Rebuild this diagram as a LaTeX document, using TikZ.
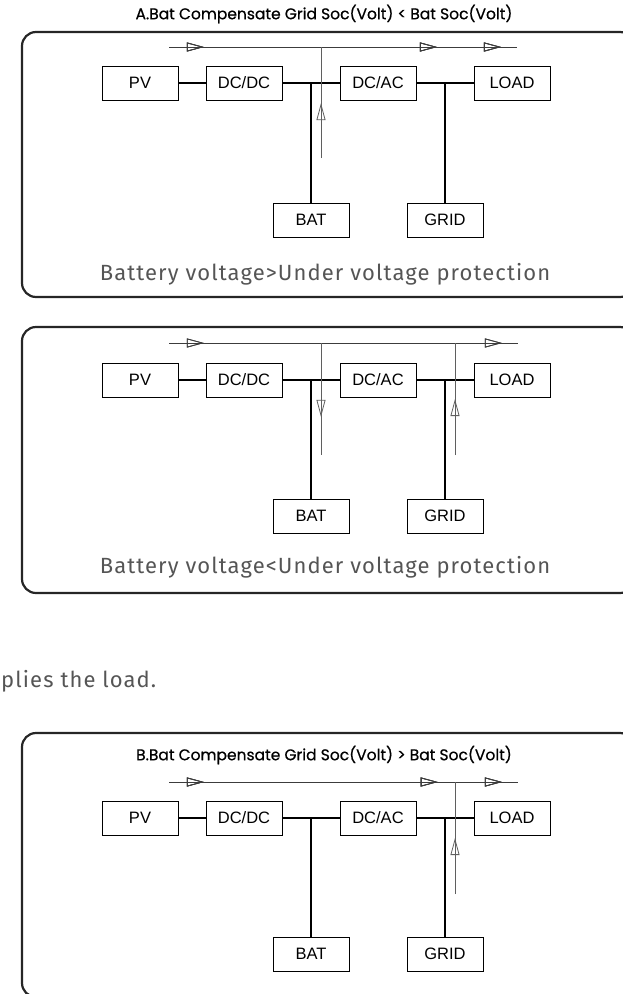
\documentclass[tikz,border=0pt]{standalone}
\usepackage{fontspec}
\setmainfont{Liberation Sans}
\newfontfamily\headfont{Poppins}[FakeBold=0.6]
\newfontfamily\notefont{Fira Sans}[LetterSpace=5]
\usetikzlibrary{arrows.meta,positioning,decorations.markings}
\definecolor{framegray}{RGB}{38,38,38}
\definecolor{flowgray}{RGB}{60,60,60}
\definecolor{tapgray}{RGB}{95,95,95}
\definecolor{notegray}{RGB}{85,85,85}

\begin{document}
\begin{tikzpicture}[
    x=1pt, y=-1pt,
    block/.style={
      rectangle,
      draw=black,
      line width=0.8pt,
      minimum width=76pt,
      minimum height=34pt,
      inner sep=0pt,
      font=\fontsize{16.5}{16.5}\selectfont
    },
    head/.style={font=\headfont\fontsize{15.5}{15.5}\selectfont},
    note/.style={text=notegray, font=\notefont\fontsize{22}{22}\selectfont},
    frame/.style={draw=framegray, line width=2.2pt, rounded corners=14pt},
    bus/.style={line width=2.4pt, black},
    flow/.style={line width=0.8pt, flowgray},
    tap/.style={line width=0.8pt, tapgray},
    tipat/.style={postaction={decorate}, decoration={markings,
      mark=at position #1 with {\arrow{Triangle[open,length=17pt,width=9pt]}}}}
  ]
  \useasboundingbox (0,0) rectangle (622,994);

  % A: battery above protection
  \node[head] (titleA) at (324,14) {A.Bat Compensate Grid Soc(Volt) < Bat Soc(Volt)};
  \begin{scope}
    \draw[frame] (22,32) rectangle (634,297);
    \node[block] (pvA) at (140,83) {PV};
    \node[block] (dcdcA) at (244,83) {DC/DC};
    \node[block] (dcacA) at (378,83) {DC/AC};
    \node[block] (loadA) at (512,83) {LOAD};
    \node[block] (batA) at (311,220) {BAT};
    \node[block] (gridA) at (445,220) {GRID};
    \draw[bus] (pvA) -- (dcdcA);
    \draw[bus] (dcdcA) -- (dcacA);
    \draw[bus] (dcacA) -- (loadA);
    \draw[bus] (batA.north) -- (batA.north |- dcdcA.east);
    \draw[bus] (gridA.north) -- (gridA.north |- dcacA.east);
    \coordinate (inA) at (169,47);
    \coordinate (outA) at (517,47);
    \coordinate (tapA) at (321,47);
    \coordinate (tapendA) at (321,158);
    \draw[flow, tipat=0.1, tipat=0.77, tipat=0.954] (inA) -- (outA);
    \draw[tap, tipat=0.495] (tapendA) -- (tapA);
    \node[note] (noteA) at (325,274) {Battery voltage>Under voltage protection};
  \end{scope}

  % B: battery below protection
  \begin{scope}[shift={(0,296)}]
    \draw[frame] (22,31) rectangle (634,297);
    \node[block] (pvB) at (140,84) {PV};
    \node[block] (dcdcB) at (244,84) {DC/DC};
    \node[block] (dcacB) at (378,84) {DC/AC};
    \node[block] (loadB) at (512,84) {LOAD};
    \node[block] (batB) at (311,220) {BAT};
    \node[block] (gridB) at (445,220) {GRID};
    \draw[bus] (pvB) -- (dcdcB);
    \draw[bus] (dcdcB) -- (dcacB);
    \draw[bus] (dcacB) -- (loadB);
    \draw[bus] (batB.north) -- (batB.north |- dcdcB.east);
    \draw[bus] (gridB.north) -- (gridB.north |- dcacB.east);
    \coordinate (inB) at (169,47);
    \coordinate (outB) at (518,47);
    \coordinate (tapB) at (321,47);
    \coordinate (tapendB) at (321,159);
    \coordinate (gridtapB) at (455,47);
    \coordinate (gridendB) at (455,159);
    \draw[flow, tipat=0.1, tipat=0.954] (inB) -- (outB);
    \draw[tap, tipat=0.66] (tapB) -- (tapendB);
    \draw[tap, tipat=0.5] (gridendB) -- (gridtapB);
    \node[note] (noteB) at (325,271) {Battery voltage<Under voltage protection};
  \end{scope}

  \node[note, anchor=west, inner xsep=0pt] (tailnote) at (1,681) {plies the load.};

  % B: grid above battery
  \begin{scope}[shift={(0,735)}]
    \draw[frame] (22,-2) rectangle (634,262);
    \node[head] (titleC) at (324,20) {B.Bat Compensate Grid Soc(Volt) > Bat Soc(Volt)};
    \node[block] (pvC) at (140,83) {PV};
    \node[block] (dcdcC) at (244,83) {DC/DC};
    \node[block] (dcacC) at (378,83) {DC/AC};
    \node[block] (loadC) at (512,83) {LOAD};
    \node[block] (batC) at (311,219) {BAT};
    \node[block] (gridC) at (445,219) {GRID};
    \draw[bus] (pvC) -- (dcdcC);
    \draw[bus] (dcdcC) -- (dcacC);
    \draw[bus] (dcacC) -- (loadC);
    \draw[bus] (batC.north) -- (batC.north |- dcdcC.east);
    \draw[bus] (gridC.north) -- (gridC.north |- dcacC.east);
    \coordinate (inC) at (169,47);
    \coordinate (outC) at (518,47);
    \coordinate (gridtapC) at (455,47);
    \coordinate (gridendC) at (455,159);
    \draw[flow, tipat=0.1, tipat=0.77, tipat=0.954] (inC) -- (outC);
    \draw[tap, tipat=0.5] (gridendC) -- (gridtapC);
  \end{scope}
\end{tikzpicture}
\end{document}
